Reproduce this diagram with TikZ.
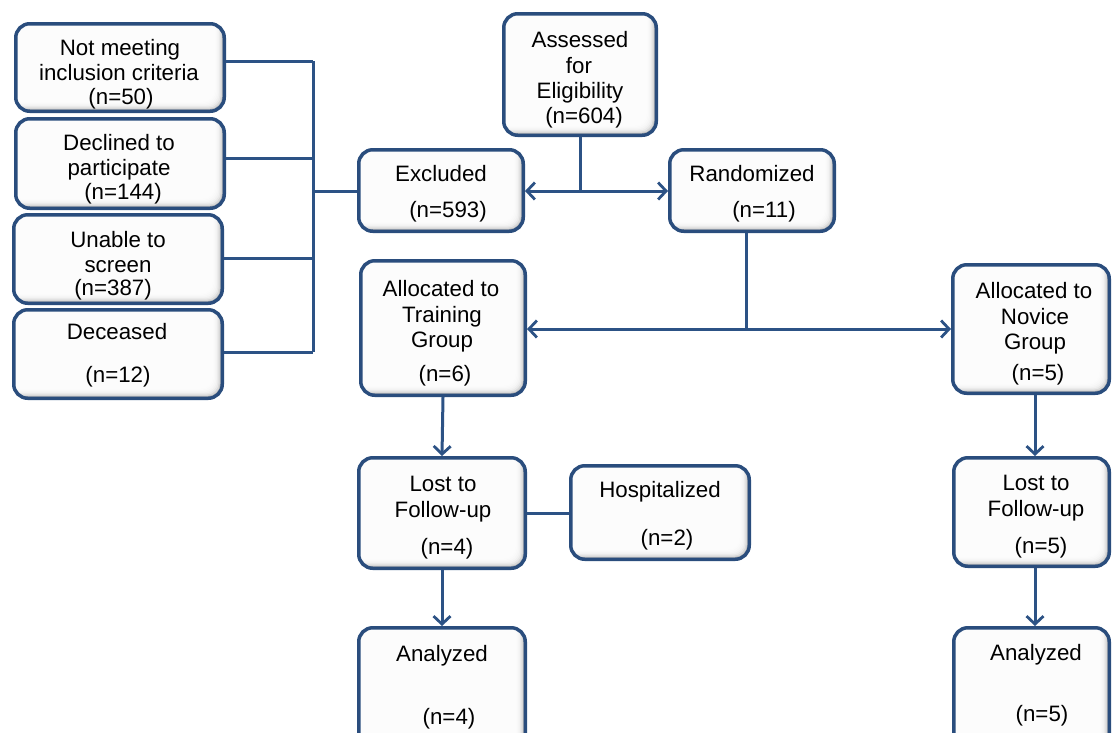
\documentclass[tikz,border=0pt]{standalone}
\usepackage{fontspec}
\setmainfont{Liberation Sans}
\usetikzlibrary{arrows.meta}
\definecolor{edge}{HTML}{2A4D7D}
\definecolor{wire}{HTML}{2C5285}

% rounded box given by its outer corners: name, x1, y1, x2, y2
\newcommand\flowbox[5]{%
  \node[box, minimum width={(#4-#2-3.5)*1pt}, minimum height={(#5-#3-3.5)*1pt}]
    (#1) at ({(#2+#4)/2},{(#3+#5)/2}) {};}

\begin{document}
\begin{tikzpicture}[x=1pt,y=-1pt,
  box/.style={draw=edge, line width=3.5pt, rounded corners=14pt, fill=white,
    inner sep=0pt,
    path picture={
      \fill[black!45] (path picture bounding box.south west)
        rectangle (path picture bounding box.north east);
      \foreach \sh in {1.2,2.4,...,9.6}
        \fill[white, fill opacity=0.42, rounded corners=12pt]
          ([xshift=-6pt,yshift=6pt]path picture bounding box.north west)
          rectangle ([xshift=-\sh pt,yshift=\sh pt]path picture bounding box.south east);
    }},
  lbl/.style={inner sep=0pt, text height=15pt, text depth=4.5pt, yshift=-2pt,
    font=\fontsize{22.3}{26}\selectfont},
  link/.style={draw=wire, line width=3pt},
  arr/.style={link, -{Straight Barb[length=8pt,width=17pt,line width=2.8pt]}}
]
\useasboundingbox (0,0) rectangle (1113,732);
\clip (0,0) rectangle (1113,732);

% exclusion reasons
\flowbox{nm}{14}{22}{226}{113}
\flowbox{dc}{14}{117}{226}{210}
\flowbox{un}{12}{213}{224}{305}
\flowbox{de}{12}{308}{224}{400}

% main flow
\flowbox{as}{502}{12}{658}{137}
\flowbox{ex}{357}{148}{525}{233}
\flowbox{rd}{668}{148}{836}{233}
\flowbox{tr}{359}{259}{527}{397}
\flowbox{nv}{951}{263}{1111}{395}
\flowbox{lt}{357}{456}{527}{570}
\flowbox{hs}{569}{464}{751}{561}
\flowbox{at}{357}{626}{527}{770}
\flowbox{ln}{952}{456}{1111}{568}
\flowbox{an}{952}{626}{1111}{770}

% labels
\node[lbl] at (120,48) {Not meeting};
\node[lbl] at (119,73) {inclusion criteria};
\node[lbl] at (121,97) {(n=50)};
\node[lbl] at (119,143) {Declined to};
\node[lbl] at (119,168) {participate};
\node[lbl] at (123,192) {(n=144)};
\node[lbl] at (118,240) {Unable to};
\node[lbl] at (118,265) {screen};
\node[lbl] at (113,288) {(n=387)};
\node[lbl] at (117,332) {Deceased};
\node[lbl] at (118,375) {(n=12)};

\node[lbl] at (580,40) {Assessed};
\node[lbl] at (579,66) {for};
\node[lbl] at (580,91) {Eligibility};
\node[lbl] at (584,116) {(n=604)};

\node[lbl] at (441,174) {Excluded};
\node[lbl] at (448,210) {(n=593)};
\node[lbl] at (752,174) {Randomized};
\node[lbl] at (764,210) {(n=11)};

\node[lbl] at (441,289) {Allocated to};
\node[lbl] at (442,315) {Training};
\node[lbl] at (442,340) {Group};
\node[lbl] at (445,374) {(n=6)};

\node[lbl] at (1034,291) {Allocated to};
\node[lbl] at (1035,317) {Novice};
\node[lbl] at (1035,342) {Group};
\node[lbl] at (1038,373) {(n=5)};

\node[lbl] at (443,484) {Lost to};
\node[lbl] at (443,510) {Follow-up};
\node[lbl] at (447,547) {(n=4)};
\node[lbl] at (660,490) {Hospitalized};
\node[lbl] at (667,538) {(n=2)};
\node[lbl] at (442,654) {Analyzed};
\node[lbl] at (449,717) {(n=4)};

\node[lbl] at (1036,483) {Lost to};
\node[lbl] at (1036,509) {Follow-up};
\node[lbl] at (1041,546) {(n=5)};
\node[lbl] at (1036,653) {Analyzed};
\node[lbl] at (1042,714) {(n=5)};

% bus collecting the exclusion reasons
\coordinate (b1) at (313,61);
\coordinate (b2) at (313,158);
\coordinate (b3) at (313,258);
\coordinate (b4) at (313,352);
\coordinate (bus) at (313,191);
\draw[link] (b1 -| nm.east) -- (b1);
\draw[link] (b2 -| dc.east) -- (b2);
\draw[link] (b3 -| un.east) -- (b3);
\draw[link] (b4 -| de.east) -- (b4);
\draw[link] (b1) -- (b4);
\draw[link] (bus) -- (bus -| ex.west);

% eligibility split
\coordinate (split) at (580,191);
\draw[link] (as.south) -- (split);
\draw[arr] (split) -- (split -| ex.east);
\draw[arr] (split) -- (split -| rd.west);

% randomisation split
\coordinate (alloc) at (746,329);
\draw[link] (alloc |- rd.south) -- (alloc);
\draw[arr] (alloc) -- (alloc -| tr.east);
\draw[arr] (alloc) -- (alloc -| nv.west);

% training arm
\draw[arr] (tr.south) -- (lt.north);
\draw[arr] (lt.south) -- (at.north);
\draw[link] (lt.east) -- (lt.east -| hs.west);

% novice arm
\coordinate (nvx) at (1035,0);
\draw[arr] (nvx |- nv.south) -- (nvx |- ln.north);
\draw[arr] (nvx |- ln.south) -- (nvx |- an.north);
\end{tikzpicture}
\end{document}
